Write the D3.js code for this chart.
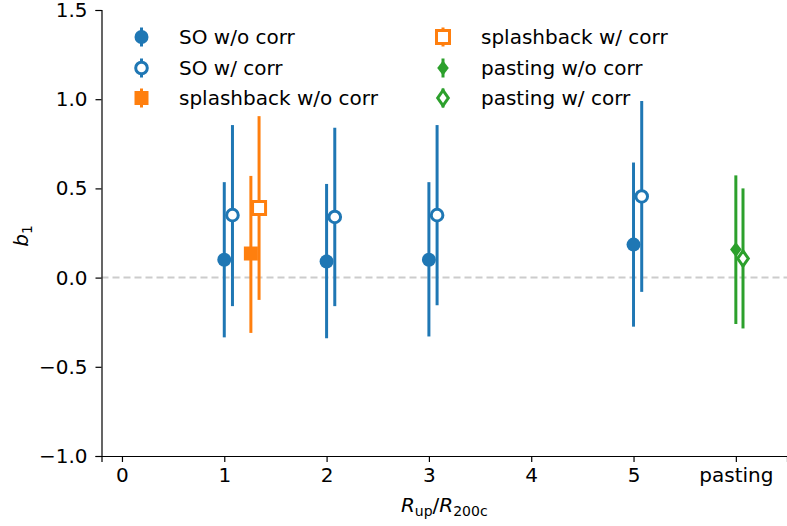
<!DOCTYPE html>
<html>
<head>
<meta charset="utf-8">
<script src="https://cdn.jsdelivr.net/npm/d3@7"></script>
<style>
  body { margin: 0; background: #fff; }
  text { font-family: "DejaVu Sans", sans-serif; fill: #000; }
</style>
</head>
<body>
<div id="chart"></div>
<script>
// data
var xTickValues = [0, 1, 2, 3, 4, 5, 6];
var xTickLabels = ["0", "1", "2", "3", "4", "5", "pasting"];
var yTickValues = [-1.0, -0.5, 0.0, 0.5, 1.0, 1.5];

var soX = [1, 2, 3, 5];
var soNoCorr = [0.10, 0.09, 0.10, 0.185];
var soNoCorrLo = [-0.335, -0.34, -0.33, -0.275];
var soNoCorrHi = [0.535, 0.525, 0.535, 0.645];

var soCorrX = [1.08, 2.08, 3.08, 5.08];
var soCorr = [0.35, 0.34, 0.35, 0.455];
var soCorrLo = [-0.16, -0.16, -0.155, -0.08];
var soCorrHi = [0.855, 0.84, 0.855, 0.99];

var spNoCorrX = [1.26];
var spNoCorr = [0.135];
var spNoCorrLo = [-0.31];
var spNoCorrHi = [0.57];

var spCorrX = [1.34];
var spCorr = [0.39];
var spCorrLo = [-0.125];
var spCorrHi = [0.905];

var paNoCorrX = [6.0];
var paNoCorr = [0.157];
var paNoCorrLo = [-0.26];
var paNoCorrHi = [0.573];

var paCorrX = [6.07];
var paCorr = [0.107];
var paCorrLo = [-0.285];
var paCorrHi = [0.50];

var blue = "#1f77b4", orange = "#ff7f0e", green = "#2ca02c";

var series = [
    {name: "SO w/o corr", x: soX, y: soNoCorr, lo: soNoCorrLo, hi: soNoCorrHi, color: blue, shape: "circle", filled: true},
    {name: "SO w/ corr", x: soCorrX, y: soCorr, lo: soCorrLo, hi: soCorrHi, color: blue, shape: "circle", filled: false},
    {name: "splashback w/o corr", x: spNoCorrX, y: spNoCorr, lo: spNoCorrLo, hi: spNoCorrHi, color: orange, shape: "square", filled: true},
    {name: "splashback w/ corr", x: spCorrX, y: spCorr, lo: spCorrLo, hi: spCorrHi, color: orange, shape: "square", filled: false},
    {name: "pasting w/o corr", x: paNoCorrX, y: paNoCorr, lo: paNoCorrLo, hi: paNoCorrHi, color: green, shape: "diamond", filled: true},
    {name: "pasting w/ corr", x: paCorrX, y: paCorr, lo: paCorrLo, hi: paCorrHi, color: green, shape: "diamond", filled: false}
];

var svgWidth = 787;
var svgHeight = 526;
var margin = {top: 10, right: 0, bottom: 70, left: 101.5};

var svg = d3.select("#chart")
    .append("svg")
    .attr("width", svgWidth)
    .attr("height", svgHeight);

var xScale = d3.scaleLinear()
    .domain([-0.2, 6.5])
    .range([margin.left, svgWidth - margin.right]);

var yScale = d3.scaleLinear()
    .domain([-1.0, 1.5])
    .range([svgHeight - margin.bottom, margin.top]);

// zero line
svg.append("line")
    .attr("x1", margin.left)
    .attr("x2", svgWidth)
    .attr("y1", yScale(0))
    .attr("y2", yScale(0))
    .attr("stroke", "#cccccc")
    .attr("stroke-width", 2)
    .attr("stroke-dasharray", "7,4");

function markerPath(shape, filled) {
    if (shape === "circle") {
        var r = filled ? 7 : 5.8;
        return d3.symbol().type(d3.symbolCircle).size(Math.PI * r * r)();
    }
    if (shape === "square") {
        var h = filled ? 7 : 6.5;
        return `M${-h},${-h}H${h}V${h}H${-h}Z`;
    }
    // thin diamond
    var w = filled ? 5.8 : 5.3, hh = filled ? 7.5 : 7.6;
    return `M0,${-hh}L${w},0L0,${hh}L${-w},0Z`;
}

function drawMarker(g, s) {
    g.append("path")
        .attr("d", markerPath(s.shape, s.filled))
        .attr("fill", s.filled ? s.color : "white")
        .attr("stroke", s.filled ? "none" : s.color)
        .attr("stroke-width", s.filled ? 0 : 3);
}

var pointsGroup = svg.append("g");

series.forEach(function(s) {
    var pts = s.x.map(function(xv, i) {
        return {x: xv, y: s.y[i], lo: s.lo[i], hi: s.hi[i]};
    });
    var g = pointsGroup.append("g");
    g.selectAll("line")
        .data(pts)
        .enter()
        .append("line")
        .attr("x1", d => xScale(d.x))
        .attr("x2", d => xScale(d.x))
        .attr("y1", d => yScale(d.lo))
        .attr("y2", d => yScale(d.hi))
        .attr("stroke", s.color)
        .attr("stroke-width", 3);
    g.selectAll("g.mk")
        .data(pts)
        .enter()
        .append("g")
        .attr("class", "mk")
        .attr("transform", d => `translate(${xScale(d.x)},${yScale(d.y)})`)
        .each(function() { drawMarker(d3.select(this), s); });
});

// axes
var xAxis = d3.axisBottom(xScale)
    .tickValues(xTickValues)
    .tickFormat((d, i) => xTickLabels[i])
    .tickSizeOuter(0)
    .tickSize(6)
    .tickPadding(6);

var yAxis = d3.axisLeft(yScale)
    .tickValues(yTickValues)
    .tickFormat(d3.format(".1f"))
    .tickSizeOuter(0)
    .tickSize(6)
    .tickPadding(8);

var xAxisG = svg.append("g")
    .attr("transform", `translate(0, ${svgHeight - margin.bottom})`)
    .call(xAxis);

var yAxisG = svg.append("g")
    .attr("transform", `translate(${margin.left}, 0)`)
    .call(yAxis);

[xAxisG, yAxisG].forEach(function(a) {
    a.select(".domain").attr("stroke", "#000").attr("stroke-width", 1.2);
    a.selectAll(".tick line").attr("stroke", "#000").attr("stroke-width", 1.2);
    a.selectAll(".tick text")
        .style("font-family", "DejaVu Sans")
        .style("font-size", "20px")
        .attr("fill", "#000");
});

// axis labels
var xLabel = svg.append("text")
    .attr("x", (margin.left + svgWidth) / 2)
    .attr("y", 512)
    .attr("text-anchor", "middle")
    .style("font-size", "20px");
xLabel.append("tspan").style("font-style", "italic").text("R");
xLabel.append("tspan").attr("dy", 4).style("font-size", "14px").text("up");
xLabel.append("tspan").attr("dy", -4).text("/");
xLabel.append("tspan").style("font-style", "italic").text("R");
xLabel.append("tspan").attr("dy", 4).style("font-size", "14px").text("200c");

var yLabel = svg.append("text")
    .attr("transform", "translate(28, 236) rotate(-90)")
    .attr("text-anchor", "middle")
    .style("font-size", "20px");
yLabel.append("tspan").style("font-style", "italic").text("b");
yLabel.append("tspan").attr("dy", 4).style("font-size", "14px").text("1");

// legend, two columns
var legendPos = [
    {mx: 141.5, tx: 179, y: 37},
    {mx: 141.5, tx: 179, y: 68},
    {mx: 141.5, tx: 179, y: 98},
    {mx: 443, tx: 481, y: 37},
    {mx: 443, tx: 481, y: 68},
    {mx: 443, tx: 481, y: 98}
];

series.forEach(function(s, i) {
    var p = legendPos[i];
    var lg = svg.append("g").attr("transform", `translate(${p.mx},${p.y})`);
    lg.append("line")
        .attr("x1", 0).attr("x2", 0)
        .attr("y1", -9.5).attr("y2", 9.5)
        .attr("stroke", s.color)
        .attr("stroke-width", 3);
    drawMarker(lg, s);
    svg.append("text")
        .attr("x", p.tx)
        .attr("y", p.y)
        .attr("dy", "0.36em")
        .style("font-size", "20px")
        .text(s.name);
});
</script>
</body>
</html>
